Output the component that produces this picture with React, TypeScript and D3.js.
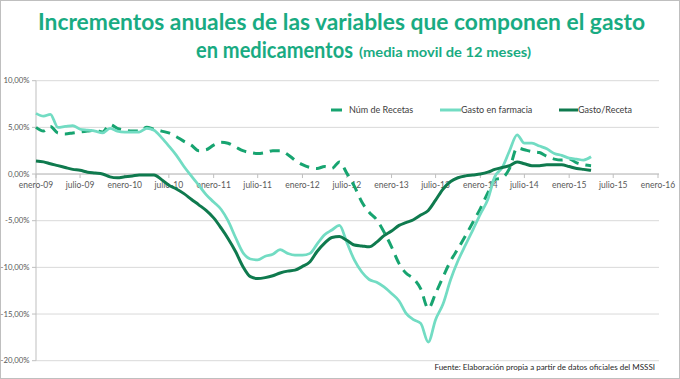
import React from 'react';
import * as d3 from 'd3';

// Monthly values (%), enero-2009 .. abril-2015
const numRecetas = [
  5.0, 4.6, 5.1, 4.4, 4.3, 4.4, 4.5, 4.6, 4.7, 4.5, 5.3, 4.9,
  4.7, 4.6, 4.6, 5.0, 4.8, 4.6, 4.4, 4.0, 3.5, 3.1, 2.5, 2.6,
  3.1, 3.4, 3.3, 2.9, 2.5, 2.3, 2.2, 2.3, 2.5, 2.5, 2.1, 1.5,
  1.0, 0.7, 0.6, 0.8, 0.6, 1.3, 0.1, -1.3, -3.0, -4.1, -4.9, -6.2,
  -7.8, -9.6, -10.6, -11.2, -12.3, -14.4, -12.8, -11.0, -9.3, -8.0, -6.6, -5.2,
  -3.7, -2.0, -0.6, -0.4, 0.6, 2.8, 2.6, 2.4, 2.3, 1.9, 1.6, 1.5,
  1.6, 1.2, 1.0, 0.9,
];
const gastoFarmacia = [
  6.5, 6.2, 6.4, 5.0, 5.1, 5.2, 4.8, 4.7, 4.6, 4.4, 4.9, 4.6,
  4.5, 4.5, 4.5, 4.9, 4.7, 3.9, 3.0, 2.0, 0.8, -0.2, -1.2, -2.2,
  -3.0, -3.8, -5.0, -6.8, -8.4, -9.1, -9.2, -8.8, -8.6, -8.1, -8.5, -8.7,
  -8.7, -8.5, -7.5, -6.5, -6.0, -5.5, -7.3, -9.2, -10.5, -11.3, -11.6, -12.1,
  -12.8, -13.6, -14.9, -15.6, -16.0, -18.0, -15.6, -13.9, -11.3, -9.3, -7.6, -6.0,
  -4.3, -2.7, -0.3, 0.7, 2.5, 4.2, 3.3, 3.3, 3.0, 2.7, 2.2, 2.0,
  1.7, 1.6, 1.5, 1.85,
];
const gastoReceta = [
  1.4, 1.3, 1.1, 0.9, 0.7, 0.5, 0.4, 0.2, 0.1, 0.0, -0.3, -0.4,
  -0.3, -0.2, -0.1, -0.1, -0.1, -0.6, -1.2, -1.6, -2.1, -2.7, -3.3, -3.9,
  -4.7, -5.8, -6.9, -8.3, -9.9, -11.0, -11.2, -11.1, -10.9, -10.6, -10.4, -10.3,
  -9.9, -9.4, -8.3, -7.4, -6.8, -6.7, -7.1, -7.6, -7.7, -7.8, -7.3, -6.6,
  -6.1, -5.5, -5.2, -4.9, -4.4, -3.9, -2.8, -1.6, -0.8, -0.4, -0.2, -0.1,
  0.0, 0.2, 0.5, 0.7, 0.9, 1.3, 1.1, 0.9, 0.9, 1.0, 1.0, 1.0,
  0.8, 0.6, 0.5, 0.4,
];

const xTickLabels = [
  'enero-09', 'julio-09', 'enero-10', 'julio-10', 'enero-11', 'julio-11', 'enero-12', 'julio-12',
  'enero-13', 'julio-13', 'enero-14', 'julio-14', 'enero-15', 'julio-15', 'enero-16',
];
const yTicks = [10, 5, 0, -5, -10, -15, -20];

const seriesNames = ['Núm de Recetas', 'Gasto en farmacia', 'Gasto/Receta'];

const W = 680;
const H = 379;

export default function App() {
  const x = d3.scaleTime()
    .domain([new Date(2009, 0, 1), new Date(2016, 0, 1)])
    .range([36, 658]);
  const y = d3.scaleLinear().domain([-20, 10]).range([360.7, 80.7]);

  const dateOf = (i: number) => new Date(2009, i, 1);
  const line = d3.line<number>()
    .x((_, i) => x(dateOf(i)))
    .y((d) => y(d))
    .curve(d3.curveMonotoneX);

  const tickDates = xTickLabels.map((_, i) => new Date(2009, i * 6, 1));
  const fmt = (v: number) => v.toFixed(2).replace('.', ',') + '%';

  const cDash = '#17a470';
  const cLight = '#72dcc3';
  const cDark = '#0f7a4e';
  const cTitle = '#19ab82';
  const font = 'Lato, "Open Sans", sans-serif';

  return (
    <>
      <style>{'body{margin:0}'}</style>
      <svg width={W} height={H} style={{ display: 'block', fontFamily: font }}>
        <rect x={0.5} y={0.5} width={W - 1} height={H - 1} fill="#fff" stroke="#bfbfbf" />
        {/* Title */}
        <text x={38} y={30} fontSize={23.5} fontWeight={700} fill={cTitle}
          textLength={607} lengthAdjust="spacingAndGlyphs">
          Incrementos anuales de las variables que componen el gasto
        </text>
        <text x={196} y={58} fontSize={21.5} fontWeight={700} fill={cTitle}
          textLength={157} lengthAdjust="spacingAndGlyphs"
          transform="translate(196 58) scale(1 1.09) translate(-196 -58)">
          en medicamentos
        </text>
        <text x={359} y={57} fontSize={14} fontWeight={700} fill={cTitle}
          textLength={172} lengthAdjust="spacingAndGlyphs">
          (media movil de 12 meses)
        </text>

        {/* Gridlines */}
        {yTicks.map((t) => (
          <g key={t}>
            <line x1={36} x2={659} y1={y(t)} y2={y(t)} stroke="#d9d9d9" strokeWidth={1} />
            <line x1={32} x2={36} y1={y(t)} y2={y(t)} stroke="#bfbfbf" />
            <text x={29.5} y={y(t)} dy="0.35em" textAnchor="end" fontSize={7.8} fill="#595959">
              {fmt(t)}
            </text>
          </g>
        ))}
        <line x1={36} x2={36} y1={y(10)} y2={y(-20)} stroke="#bfbfbf" />
        {/* X axis at 0 */}
        <line x1={36} x2={659} y1={y(0)} y2={y(0)} stroke="#bfbfbf" />
        {tickDates.map((d, i) => (
          <g key={i}>
            <line x1={x(d)} x2={x(d)} y1={y(0)} y2={y(0) + 4} stroke="#bfbfbf" />
            <text x={x(d)} y={188} textAnchor="middle" fontSize={8.5} fill="#595959">
              {xTickLabels[i]}
            </text>
          </g>
        ))}

        {/* Series */}
        <path d={line(numRecetas) || ''} fill="none" stroke={cDash} strokeWidth={3}
          strokeDasharray="10,7" />
        <path d={line(gastoFarmacia) || ''} fill="none" stroke={cLight} strokeWidth={2.75} />
        <path d={line(gastoReceta) || ''} fill="none" stroke={cDark} strokeWidth={3} />

        {/* Legend */}
        <line x1={331} x2={342} y1={110} y2={110} stroke={cDash} strokeWidth={3} />
        <text x={349} y={113} fontSize={9} fill="#404040">{seriesNames[0]}</text>
        <line x1={440} x2={461} y1={110} y2={110} stroke={cLight} strokeWidth={3} />
        <text x={461} y={113} fontSize={9} fill="#404040">{seriesNames[1]}</text>
        <line x1={559} x2={578} y1={110} y2={110} stroke={cDark} strokeWidth={3} />
        <text x={578} y={113} fontSize={9} fill="#404040">{seriesNames[2]}</text>

        {/* Footnote */}
        <text x={655} y={370} textAnchor="end" fontSize={8} fill="#262626">
          Fuente: Elaboración propia a partir de datos oficiales del MSSSI
        </text>
      </svg>
    </>
  );
}
